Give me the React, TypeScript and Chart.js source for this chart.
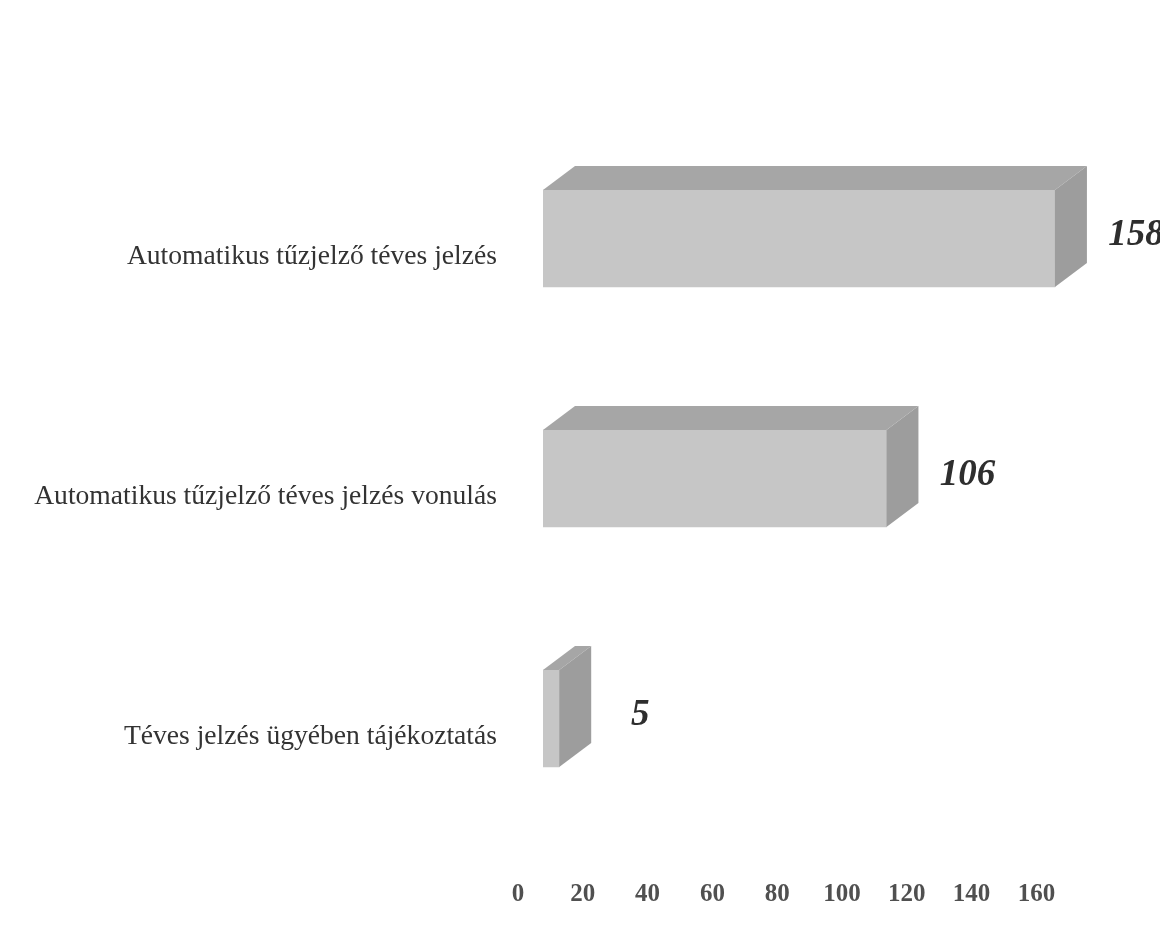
import React, { useEffect, useRef } from "react";
import { Chart, registerables } from "chart.js";

Chart.register(...registerables);

const categories = [
  "Automatikus tűzjelző téves jelzés",
  "Automatikus tűzjelző téves jelzés vonulás",
  "Téves jelzés ügyében tájékoztatás",
];
const values = [158, 106, 5];
const tickValues = [0, 20, 40, 60, 80, 100, 120, 140, 160];

const FRONT = "#c6c6c6";
const TOP = "#a6a6a6";
const SIDE = "#9d9d9d";
const DEPTH_X = 32;
const DEPTH_Y = 24;
const SERIF = '"Liberation Serif", serif';

const box3d = {
  id: "box3d",
  afterDatasetsDraw(chart: any) {
    const { ctx } = chart;
    const meta = chart.getDatasetMeta(0);
    meta.data.forEach((bar: any, i: number) => {
      const left = bar.base;
      const right = bar.x;
      const top = bar.y - bar.height / 2;
      const bottom = bar.y + bar.height / 2;
      ctx.save();
      ctx.fillStyle = TOP;
      ctx.beginPath();
      ctx.moveTo(left, top);
      ctx.lineTo(left + DEPTH_X, top - DEPTH_Y);
      ctx.lineTo(right + DEPTH_X, top - DEPTH_Y);
      ctx.lineTo(right, top);
      ctx.closePath();
      ctx.fill();
      ctx.fillStyle = SIDE;
      ctx.beginPath();
      ctx.moveTo(right, top);
      ctx.lineTo(right + DEPTH_X, top - DEPTH_Y);
      ctx.lineTo(right + DEPTH_X, bottom - DEPTH_Y);
      ctx.lineTo(right, bottom);
      ctx.closePath();
      ctx.fill();
      ctx.fillStyle = "#2e2e2e";
      ctx.font = `italic bold 37px ${SERIF}`;
      ctx.textAlign = "center";
      ctx.textBaseline = "middle";
      ctx.fillText(String(values[i]), right + 81, bar.y - 3);
      ctx.restore();
    });
  },
};

export default function App() {
  const ref = useRef<HTMLCanvasElement>(null);
  useEffect(() => {
    document.body.style.margin = "0";
    const chart = new Chart(ref.current!, {
      type: "bar",
      data: {
        labels: categories,
        datasets: [
          {
            data: values,
            backgroundColor: FRONT,
            borderWidth: 0,
            barThickness: 97,
          },
        ],
      },
      options: {
        indexAxis: "y",
        responsive: false,
        animation: false,
        layout: { padding: { top: 118.5, right: 98.6, left: 0, bottom: 0 } },
        plugins: { legend: { display: false }, tooltip: { enabled: false } },
        scales: {
          x: {
            type: "linear",
            min: 0,
            max: 160,
            afterBuildTicks(scale: any) {
              scale.ticks = tickValues.map((value) => ({ value }));
            },
            afterFit(scale: any) {
              scale.height = 100.5;
            },
            grid: { display: false, drawTicks: false },
            border: { display: false },
            ticks: {
              maxRotation: 0,
              autoSkip: false,
              padding: 41,
              labelOffset: -25,
              color: "#505050",
              font: { family: SERIF, size: 25, weight: "bold" },
            },
          },
          y: {
            afterFit(scale: any) {
              scale.width = 543;
            },
            grid: { display: false, drawTicks: false },
            border: { display: false },
            ticks: {
              padding: 46,
              labelOffset: 18,
              color: "#333333",
              font: { family: SERIF, size: 27.6 },
            },
          },
        },
      },
      plugins: [box3d],
    } as any);
    return () => chart.destroy();
  }, []);
  return (
    <div style={{ position: "absolute", left: 0, top: 0, width: 1160, height: 939, background: "#ffffff", overflow: "hidden" }}>
      <canvas ref={ref} width={1160} height={939} style={{ display: "block" }} />
    </div>
  );
}
